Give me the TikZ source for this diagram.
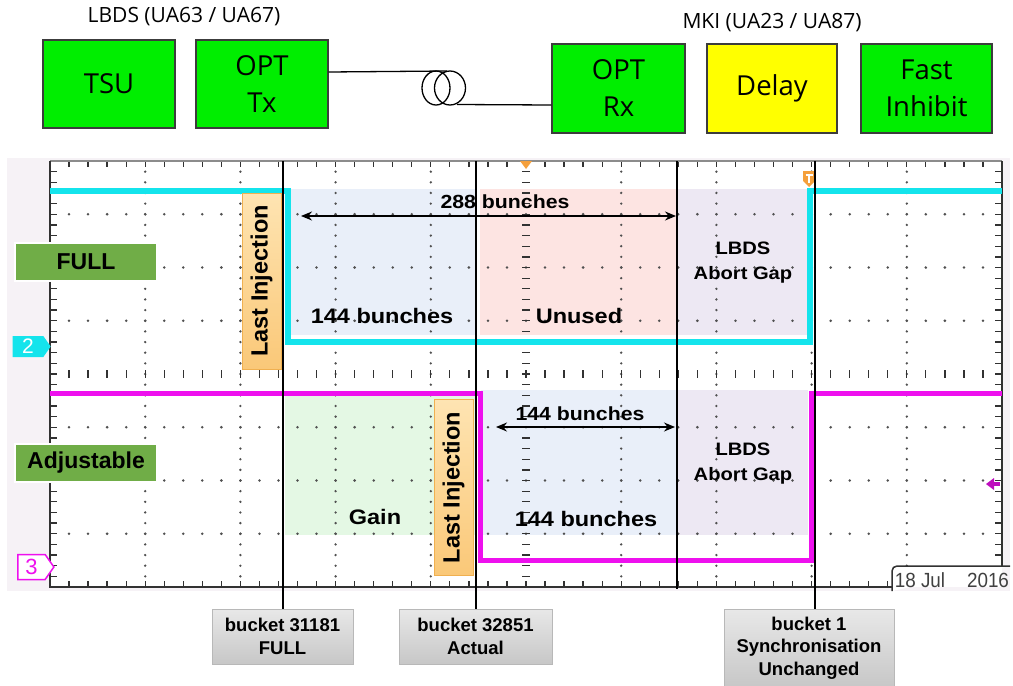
\documentclass[tikz,border=0pt]{standalone}
\usepackage{fontspec}
\setmainfont{Liberation Sans}
\newfontfamily\osf{Open Sans}
\usetikzlibrary{arrows.meta,shapes.symbols}
\definecolor{limeg}{RGB}{0,238,0}
\definecolor{yel}{RGB}{255,255,0}
\definecolor{boxedge}{RGB}{60,60,60}
\definecolor{fullg}{RGB}{112,173,71}
\definecolor{cyanT}{RGB}{20,228,236}
\definecolor{magT}{RGB}{238,16,238}
\definecolor{blueS}{RGB}{233,239,249}
\definecolor{pinkS}{RGB}{253,228,226}
\definecolor{lavS}{RGB}{237,232,243}
\definecolor{greenS}{RGB}{228,248,228}
\definecolor{scopebg}{RGB}{246,242,246}
\definecolor{dotc}{RGB}{80,80,80}
\definecolor{tickc}{RGB}{50,50,50}
\definecolor{orangeT}{RGB}{245,160,60}
\definecolor{liL}{RGB}{254,228,178}
\definecolor{liR}{RGB}{250,200,120}
\definecolor{liE}{RGB}{240,176,80}
\begin{document}
\begin{tikzpicture}[x=1pt,y=-1pt,
  blk/.style={draw=boxedge,line width=1.2pt,fill=limeg,inner sep=0pt,align=center,
     font=\osf\fontsize{27.5}{37}\selectfont},
  toplbl/.style={font=\osf\fontsize{21}{25}\selectfont},
  fib/.style={line width=1.3pt,black},
  tick/.style={tickc,line width=1.3pt},
  vline/.style={black,line width=2.5pt},
  stxt/.style={font=\bfseries\fontsize{#1}{25}\selectfont,xscale=1.12,align=center},
  stxt/.default=21,
  libox/.style={rotate=90,draw=liE,line width=0.8pt,top color=liL,bottom color=liR,
     inner sep=0pt,minimum width=176,minimum height=39,font=\bfseries\fontsize{23.5}{26}\selectfont},
  tag/.style={fill=fullg,draw=white,line width=1.5pt,minimum width=142,minimum height=38,
     inner sep=0pt,font=\bfseries\fontsize{23}{26}\selectfont},
  bucket/.style={draw=black!28,line width=0.8pt,top color=black!9,bottom color=black!22,
     inner sep=0pt,align=center,font=\bfseries\fontsize{18.5}{22.3}\selectfont},
  dbl/.style={line width=1.5pt,{Stealth[length=11pt,width=9pt]}-{Stealth[length=11pt,width=9pt]}}
]
\useasboundingbox (0,0) rectangle (1013,686);
\fill[white] (0,0) rectangle (1013,686);

% ---------- top block diagram ----------
\node[toplbl] (lbdsl) at (184,17) {LBDS (UA63 / UA67)};
\node[toplbl] (mkil) at (772,23) {MKI (UA23 / UA87)};
\node[blk,minimum width=132,minimum height=88] (tsu) at (109,84) {TSU};
\node[blk,minimum width=132,minimum height=88] (tx) at (262,84) {OPT\\Tx};
\node[blk,minimum width=133,minimum height=89] (rx) at (618.5,88.5) {OPT\\Rx};
\node[blk,minimum width=130,minimum height=89,fill=yel] (dly) at (772,88.5) {Delay};
\node[blk,minimum width=131,minimum height=89] (fi) at (926.5,88.5) {Fast\\Inhibit};
\coordinate (f1) at (447,71);
\coordinate (f2) at (457,104.5);
\draw[fib] ([yshift=12pt]tx.east) -- (f1);
\draw[fib] (436,88) ellipse [x radius=14,y radius=17];
\draw[fib] (450,88) ellipse [x radius=15.5,y radius=17];
\draw[fib] (f2) -- ([yshift=-16.5pt]rx.west);

% ---------- scope background ----------
\fill[scopebg] (7,158) rectangle (1010,591);
\fill[white] (50,161) rectangle (1002,587);

% shaded zones
\fill[blueS] (288,189) rectangle (477,335);
\fill[pinkS] (480,189) rectangle (677,335);
\fill[lavS] (677,189) rectangle (808,335);
\fill[greenS] (285,396) rectangle (476,535);
\fill[blueS] (481,390) rectangle (677,535);
\fill[lavS] (677,390) rectangle (808,535);

% grid dots
\foreach \j in {1,2,3,5,6,7} {
  \foreach \i in {1,...,49} { \fill[dotc] ({50+\i*19.04},{161+\j*53.25}) circle (1.4); }
}
\foreach \i in {1,2,3,4,6,7,8,9} {
  \foreach \j in {1,...,39} { \fill[dotc] ({50+\i*95.2},{161+\j*10.65}) circle (1.3); }
}
% centre axes
\foreach \i in {1,...,49} { \draw[tick] ({50+\i*19.04},370) -- ++(0,8); }
\foreach \j in {1,...,39} { \draw[tick] (522,{161+\j*10.65}) -- ++(8,0); }
% border ticks
\foreach \i in {1,...,49} { \draw[tick] ({50+\i*19.04},161) -- ++(0,6); }
\foreach \i in {1,...,44} { \draw[tick] ({50+\i*19.04},587) -- ++(0,-6); }
\foreach \j in {1,...,39} { \draw[tick] (50,{161+\j*10.65}) -- ++(7,0); }
\foreach \j in {1,...,37} { \draw[tick] (1002,{161+\j*10.65}) -- ++(-7,0); }
% border
\draw[black!45,line width=1.2pt] (50,161) -- (1002,161);
\draw[tickc,line width=2pt] (1002,161) -- (1002,566);
\draw[tickc,line width=2pt] (50,161) -- (50,587) -- (892,587);
% date tab
\draw[tickc,line width=1.5pt,fill=white] (892,591) -- (892,571) to[out=90,in=180] (897,566) -- (1010,566);
\node[font=\fontsize{20.5}{22}\selectfont,text=black!75,inner sep=0pt,xscale=0.92] (dt1) at (920,580) {18 Jul};
\node[font=\fontsize{20.5}{22}\selectfont,text=black!75,inner sep=0pt,xscale=0.92] (dt2) at (988,580) {2016};

% triggers and markers
\fill[orangeT] (520,161) -- (532,161) -- (526,169) -- cycle;
\fill[orangeT] (803,171) -- (815,171) -- (815,181) -- (809,187) -- (803,181) -- cycle;
\draw[white,line width=1.3pt] (805.5,175) -- (812.5,175) (809,175) -- (809,183);
\fill[magT!80!black] (986,484) -- (994,478) -- (994,490) -- cycle;
\fill[magT!80!black] (993,482) rectangle (1000,486);
\node[signal,signal to=east,signal pointer angle=110,fill=cyanT,text=white,inner sep=0pt,
  minimum width=38,minimum height=21,font=\fontsize{21}{22}\selectfont] (ch2) at (28,346.5) {2\hspace{10pt}};
\node[signal,signal to=east,signal pointer angle=110,draw=magT,line width=1.5pt,fill=white,text=magT,inner sep=0pt,
  minimum width=36,minimum height=25,font=\fontsize{22}{22}\selectfont] (ch3) at (31.5,567) {3\hspace{8pt}};

% traces
\draw[cyanT,line width=6pt,line join=miter] (50,191) -- (288,191) -- (288,342) -- (810,342) -- (810,191) -- (1002,191);
\draw[magT,line width=5pt,line join=miter] (50,393) -- (480,393) -- (480,560) -- (811,560) -- (811,393) -- (1002,393);

% labels
\node[tag] (full) at (86,262) {FULL};
\node[tag] (adj) at (86,463) {Adjustable};
\node[libox] (li1) at (261.5,281) {Last Injection};
\node[libox] (li2) at (453.5,487.5) {Last Injection};

\coordinate (a1) at (301,216);
\coordinate (a2) at (676,216);
\draw[dbl] (a1) -- (a2);
\node[stxt=19] (t288) at (505,202) {288 bunches};
\node[stxt] (t144a) at (382,316) {144 bunches};
\node[stxt] (tun) at (579,316) {Unused};
\node[stxt=18] (gap1) at (743,263) {LBDS\\Abort Gap};
\coordinate (a3) at (496,427);
\coordinate (a4) at (675,427);
\draw[dbl] (a3) -- (a4);
\node[stxt=19] (t144b) at (580,414) {144 bunches};
\node[stxt] (gain) at (375,517) {Gain};
\node[stxt] (t144c) at (586,519) {144 bunches};
\node[stxt=18] (gap2) at (743,464) {LBDS\\Abort Gap};

% bucket labels and marker lines
\node[bucket,minimum width=141,minimum height=55] (b1) at (282.5,636.5) {bucket 31181\\FULL};
\node[bucket,minimum width=153,minimum height=55] (b2) at (475.5,636.5) {bucket 32851\\Actual};
\node[bucket,minimum width=170,minimum height=78] (b3) at (809,648) {bucket 1\\Synchronisation\\Unchanged};
\coordinate (v1) at (283,161);
\coordinate (v2) at (476,161);
\coordinate (v3) at (677,161);
\coordinate (v3e) at (677,589);
\coordinate (v4) at (815,161);
\draw[vline] (v1) -- (v1 |- b1.north);
\draw[vline] (v2) -- (v2 |- b2.north);
\draw[vline] (v3) -- (v3e);
\draw[vline] (v4) -- (v4 |- b3.north);
\end{tikzpicture}
\end{document}
